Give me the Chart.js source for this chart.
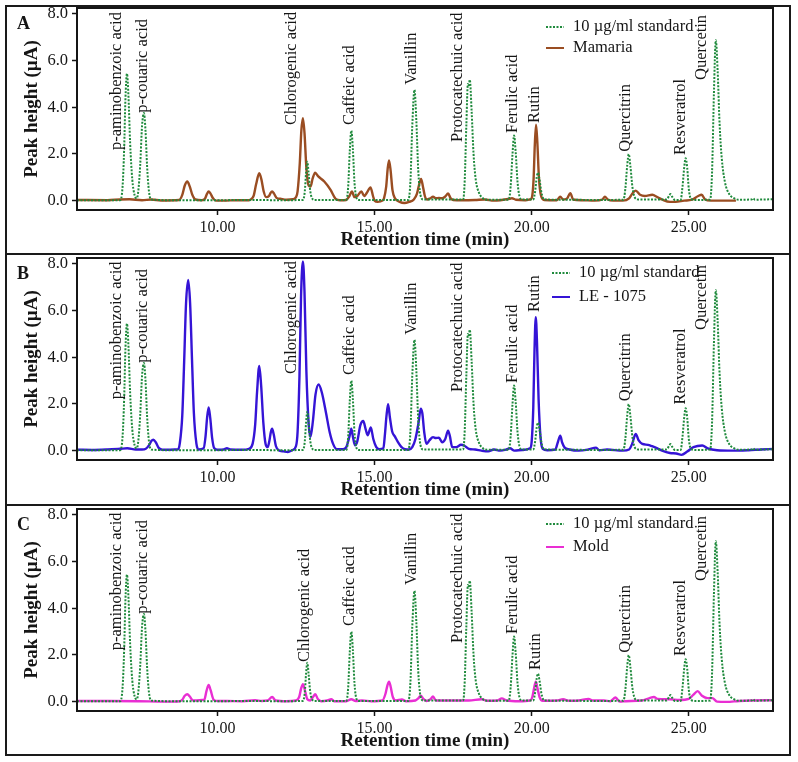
<!DOCTYPE html>
<html>
<head>
<meta charset="utf-8">
<script src="https://cdn.jsdelivr.net/npm/chart.js@4.4.1/dist/chart.umd.min.js"></script>
<style>
  body { margin: 0; background: #fff; width: 798px; height: 762px; position: relative; overflow: hidden; }
  .frame { position: absolute; left: 5px; top: 5px; width: 786px; height: 751px; border: 2px solid #1a1a1a; box-sizing: border-box; }
  .divider { position: absolute; left: 5px; width: 786px; height: 2px; background: #1a1a1a; }
  canvas { position: absolute; left: 7px; }
</style>
</head>
<body>
<div class="frame"></div>
<div class="divider" style="top:253px"></div>
<div class="divider" style="top:504px"></div>
<canvas id="panelA" width="782" height="246" style="top:6px"></canvas>
<canvas id="panelB" width="782" height="246" style="top:256px"></canvas>
<canvas id="panelC" width="782" height="246" style="top:507px"></canvas>
<script>
(function () {
    "use strict";

    // Axis ticks
    var timeTicks = [10, 15, 20, 25];
    var heightTicks = [0, 2, 4, 6, 8];

    // 10 ug/ml standard (same in every panel), [time, peak height]
    var standardTrace = [
        [5.53, 0.02], [6.5, 0.02], [6.9, 0.02], [6.98, 0.6], [7.03, 2.2], [7.07, 4.3], [7.12, 5.44],
        [7.17, 4.4], [7.22, 2.5], [7.29, 0.9], [7.36, 0.25], [7.43, 0.1], [7.48, 0.4], [7.54, 1.5],
        [7.6, 3.2], [7.66, 3.75], [7.71, 3.0], [7.76, 1.5], [7.82, 0.4], [7.89, 0.05], [8.5, 0.02],
        [10.0, 0.02], [11.0, 0.03], [12.0, 0.02], [12.72, 0.03], [12.78, 0.4], [12.82, 1.2], [12.86, 1.67],
        [12.9, 1.2], [12.95, 0.45], [13.02, 0.08], [13.1, 0.03], [14.1, 0.03], [14.16, 0.6], [14.21, 2.1],
        [14.26, 3.0], [14.31, 2.2], [14.36, 0.8], [14.43, 0.1], [14.5, 0.03], [16.07, 0.03], [16.14, 0.8],
        [16.2, 3.2], [16.27, 4.75], [16.33, 3.4], [16.39, 1.3], [16.46, 0.25], [16.55, 0.05], [17.82, 0.05],
        [17.87, 0.9], [17.92, 3.2], [17.97, 5.0], [18.0, 4.9], [18.03, 5.18], [18.09, 3.8], [18.15, 2.0],
        [18.22, 0.9], [18.32, 0.35], [18.45, 0.1], [18.6, 0.04], [19.27, 0.04], [19.33, 0.6], [19.39, 2.0],
        [19.44, 2.79], [19.49, 2.1], [19.55, 0.8], [19.62, 0.15], [19.7, 0.05], [20.05, 0.05], [20.11, 0.4],
        [20.16, 1.0], [20.2, 1.2], [20.25, 0.9], [20.31, 0.35], [20.4, 0.05], [21.0, 0.04], [22.0, 0.03],
        [22.92, 0.04], [22.98, 0.5], [23.04, 1.5], [23.09, 1.99], [23.14, 1.5], [23.21, 0.55], [23.3, 0.1],
        [23.4, 0.05], [24.3, 0.05], [24.37, 0.2], [24.42, 0.28], [24.48, 0.15], [24.56, 0.03], [24.74, 0.03],
        [24.8, 0.6], [24.86, 1.5], [24.9, 1.82], [24.95, 1.4], [25.0, 0.5], [25.07, 0.08], [25.2, 0.03],
        [25.68, 0.05], [25.74, 1.2], [25.8, 4.6], [25.86, 6.87], [25.92, 5.5], [25.98, 3.3], [26.05, 1.8],
        [26.15, 0.8], [26.28, 0.3], [26.45, 0.1], [26.6, 0.04], [27.0, 0.05], [27.05, 0.1], [27.1, 0.04],
        [27.4, 0.05], [27.68, 0.06]
    ];

    // Mamaria
    var mamariaTrace = [
        [5.53, 0.03], [6.5, 0.02], [6.9, 0.05], [7.2, 0.06], [7.6, 0.02], [7.9, 0.05], [8.2, 0.01],
        [8.78, 0.03], [8.88, 0.25], [8.96, 0.65], [9.04, 0.82], [9.12, 0.6], [9.2, 0.25], [9.3, 0.05],
        [9.5, 0.02], [9.6, 0.08], [9.67, 0.3], [9.72, 0.39], [9.78, 0.3], [9.86, 0.1], [9.95, 0.0],
        [10.2, 0.0], [10.6, 0.02], [11.0, 0.02], [11.1, 0.1], [11.15, 0.2], [11.23, 0.7], [11.33, 1.18],
        [11.4, 0.9], [11.47, 0.4], [11.55, 0.15], [11.64, 0.2], [11.69, 0.33], [11.74, 0.39], [11.8, 0.3],
        [11.88, 0.12], [12.0, 0.08], [12.2, 0.04], [12.4, 0.06], [12.5, 0.15], [12.55, 0.4], [12.62, 1.6],
        [12.67, 3.0], [12.72, 3.53], [12.77, 2.9], [12.83, 1.4], [12.9, 0.65], [12.96, 0.6], [13.03, 0.95],
        [13.11, 1.2], [13.2, 1.05], [13.4, 0.82], [13.6, 0.46], [13.76, 0.08], [13.9, 0.02], [14.1, 0.03],
        [14.2, 0.2], [14.28, 0.39], [14.36, 0.15], [14.45, 0.2], [14.58, 0.39], [14.67, 0.2], [14.76, 0.35],
        [14.87, 0.57], [14.95, 0.2], [15.0, 0.0], [15.1, -0.05], [15.25, 0.0], [15.3, 0.1], [15.37, 0.6],
        [15.42, 1.4], [15.46, 1.72], [15.51, 1.3], [15.57, 0.45], [15.65, 0.1], [15.8, -0.05], [15.95, -0.1],
        [16.1, -0.05], [16.25, 0.05], [16.35, 0.3], [16.43, 0.75], [16.48, 0.93], [16.54, 0.6], [16.6, 0.2],
        [16.67, 0.05], [16.77, 0.1], [16.86, 0.17], [16.95, 0.1], [17.05, 0.12], [17.15, 0.1], [17.25, 0.18],
        [17.34, 0.31], [17.42, 0.1], [17.5, 0.03], [17.8, 0.02], [18.2, 0.03], [18.5, 0.05], [18.8, 0.0],
        [19.0, 0.02], [19.3, 0.08], [19.37, 0.1], [19.5, 0.04], [19.8, 0.02], [19.95, 0.05], [20.0, 0.1],
        [20.06, 0.9], [20.1, 2.4], [20.14, 3.25], [20.18, 2.5], [20.23, 1.0], [20.3, 0.2], [20.4, 0.03],
        [20.8, 0.02], [20.91, 0.17], [21.0, 0.05], [21.13, 0.1], [21.23, 0.32], [21.32, 0.05], [21.6, 0.02],
        [22.0, 0.0], [22.25, 0.05], [22.33, 0.17], [22.42, 0.05], [22.6, 0.0], [22.9, 0.0], [23.1, 0.1],
        [23.2, 0.3], [23.31, 0.43], [23.45, 0.25], [23.6, 0.2], [23.84, 0.25], [24.0, 0.15], [24.15, 0.05],
        [24.4, -0.05], [24.58, -0.05], [24.85, 0.0], [25.1, 0.04], [25.3, 0.2], [25.41, 0.25], [25.52, 0.05],
        [25.7, 0.0], [26.0, 0.0], [26.3, 0.0], [26.5, 0.0]
    ];

    // LE - 1075
    var le1075Trace = [
        [5.53, 0.04], [6.0, 0.03], [6.5, 0.05], [6.9, 0.08], [7.13, 0.1], [7.4, 0.05], [7.6, 0.05],
        [7.72, 0.08], [7.83, 0.25], [7.9, 0.42], [7.96, 0.47], [8.04, 0.35], [8.13, 0.12], [8.25, 0.04],
        [8.5, 0.04], [8.75, 0.06], [8.8, 0.3], [8.88, 1.5], [8.94, 3.8], [9.0, 6.3], [9.07, 7.31],
        [9.13, 6.3], [9.19, 3.9], [9.25, 1.6], [9.33, 0.3], [9.4, 0.05], [9.56, 0.1], [9.62, 0.6],
        [9.67, 1.4], [9.72, 1.85], [9.77, 1.4], [9.83, 0.55], [9.9, 0.1], [10.0, 0.04], [10.2, 0.05],
        [10.3, 0.1], [10.4, 0.05], [10.8, 0.04], [11.0, 0.08], [11.12, 0.3], [11.2, 1.1], [11.26, 2.5],
        [11.33, 3.63], [11.39, 2.8], [11.46, 1.2], [11.53, 0.3], [11.6, 0.15], [11.65, 0.4], [11.7, 0.8],
        [11.74, 0.94], [11.79, 0.7], [11.86, 0.2], [11.95, 0.02], [12.1, -0.03], [12.24, -0.06],
        [12.38, 0.02], [12.5, 0.2], [12.55, 0.8], [12.61, 3.2], [12.66, 6.6], [12.72, 8.1], [12.77, 6.8],
        [12.83, 3.4], [12.9, 1.2], [12.96, 0.59], [13.04, 1.3], [13.12, 2.4], [13.22, 2.83], [13.32, 2.5],
        [13.46, 1.58], [13.57, 0.8], [13.68, 0.29], [13.8, 0.06], [14.0, 0.06], [14.1, 0.15], [14.2, 0.6],
        [14.26, 0.94], [14.31, 0.6], [14.38, 0.23], [14.45, 0.4], [14.55, 1.1], [14.64, 1.27], [14.72, 0.9],
        [14.78, 0.66], [14.88, 0.99], [14.96, 0.5], [15.05, 0.16], [15.15, 0.06], [15.28, 0.1], [15.33, 0.7],
        [15.38, 1.5], [15.43, 1.99], [15.49, 1.4], [15.56, 0.82], [15.65, 0.6], [15.75, 0.35], [15.85, 0.16],
        [15.97, 0.06], [16.1, 0.05], [16.2, 0.15], [16.3, 0.5], [16.4, 1.2], [16.47, 1.8], [16.52, 1.6],
        [16.58, 0.8], [16.65, 0.29], [16.75, 0.45], [16.86, 0.58], [16.95, 0.54], [17.05, 0.55], [17.15, 0.36],
        [17.25, 0.5], [17.34, 0.86], [17.4, 0.6], [17.47, 0.15], [17.6, 0.15], [17.75, 0.25], [17.85, 0.22],
        [18.0, 0.08], [18.2, 0.05], [18.4, 0.0], [18.62, -0.03], [18.8, 0.05], [19.0, 0.0], [19.2, 0.05],
        [19.31, 0.1], [19.45, 0.0], [19.7, 0.03], [19.95, 0.1], [20.0, 0.4], [20.05, 1.8], [20.09, 4.3],
        [20.13, 5.72], [20.17, 4.6], [20.22, 2.2], [20.28, 0.6], [20.35, 0.08], [20.5, 0.02], [20.75, 0.05],
        [20.83, 0.35], [20.91, 0.64], [20.97, 0.35], [21.05, 0.13], [21.2, 0.05], [21.5, 0.0], [21.8, 0.05],
        [22.05, 0.13], [22.15, 0.02], [22.4, 0.05], [22.9, 0.0], [23.1, 0.05], [23.2, 0.3], [23.31, 0.72],
        [23.4, 0.45], [23.52, 0.29], [23.7, 0.25], [23.83, 0.19], [24.0, 0.1], [24.15, 0.0], [24.4, -0.1],
        [24.6, -0.12], [24.77, -0.18], [24.95, -0.04], [25.15, 0.15], [25.43, 0.22], [25.6, 0.1], [25.9, 0.02],
        [26.4, 0.0], [26.9, 0.02], [27.3, 0.05], [27.68, 0.07]
    ];

    // Mold
    var moldTrace = [
        [5.53, 0.03], [6.5, 0.03], [7.5, 0.02], [8.3, 0.0], [8.8, 0.02], [8.88, 0.08], [8.96, 0.25],
        [9.04, 0.32], [9.12, 0.22], [9.22, 0.05], [9.58, 0.08], [9.65, 0.45], [9.72, 0.72], [9.78, 0.5],
        [9.88, 0.08], [10.0, 0.03], [10.3, 0.03], [10.8, 0.02], [11.2, 0.06], [11.4, 0.03], [11.6, 0.05],
        [11.74, 0.2], [11.85, 0.05], [12.2, 0.02], [12.5, 0.05], [12.6, 0.2], [12.66, 0.55], [12.72, 0.75],
        [12.78, 0.5], [12.86, 0.1], [12.95, 0.05], [13.05, 0.22], [13.11, 0.32], [13.2, 0.1], [13.3, 0.02],
        [13.5, 0.05], [13.62, 0.1], [13.72, 0.02], [14.1, 0.02], [14.26, 0.1], [14.4, 0.03], [14.6, 0.05],
        [14.9, 0.02], [15.25, 0.05], [15.35, 0.35], [15.41, 0.7], [15.46, 0.86], [15.51, 0.65], [15.58, 0.2],
        [15.68, 0.05], [15.87, 0.09], [16.0, 0.02], [16.3, 0.05], [16.4, 0.15], [16.47, 0.26], [16.55, 0.12],
        [16.65, 0.03], [16.78, 0.1], [16.86, 0.22], [16.95, 0.05], [17.5, 0.05], [18.0, 0.05], [18.41, 0.1],
        [18.6, 0.04], [18.9, 0.05], [19.05, 0.14], [19.2, 0.05], [19.6, 0.02], [19.95, 0.05], [20.02, 0.2],
        [20.08, 0.6], [20.13, 0.86], [20.18, 0.6], [20.25, 0.2], [20.35, 0.04], [20.8, 0.05], [21.0, 0.1],
        [21.2, 0.04], [21.5, 0.05], [21.81, 0.12], [21.95, 0.05], [22.3, 0.05], [22.5, 0.02], [22.67, 0.18],
        [22.8, 0.0], [23.0, 0.02], [23.5, 0.05], [23.75, 0.15], [23.89, 0.2], [24.0, 0.12], [24.4, 0.1],
        [24.7, 0.07], [25.0, 0.12], [25.15, 0.3], [25.28, 0.45], [25.42, 0.25], [25.6, 0.15], [25.75, 0.15],
        [25.9, 0.0], [26.2, -0.01], [26.6, 0.03], [27.0, 0.05], [27.68, 0.06]
    ];

    // Compound labels: retention time and height where each label starts
    var peakNames = ["p-aminobenzoic acid", "p-couaric acid", "Chlorogenic acid", "Caffeic acid", "Vanillin",
        "Protocatechuic acid", "Ferulic acid", "Rutin", "Quercitrin", "Resveratrol", "Quercetin"];
    var labelTimeA = [6.8, 7.63, 12.37, 14.22, 16.19, 17.66, 19.41, 20.11, 23.0, 24.75, 25.42];
    var labelHeightA = [2.17, 3.76, 3.24, 3.24, 4.96, 2.51, 2.9, 3.33, 2.09, 1.96, 5.17];
    var labelTimeB = [6.8, 7.63, 12.37, 14.22, 16.19, 17.66, 19.41, 20.11, 23.0, 24.75, 25.42];
    var labelHeightB = [2.2, 3.76, 3.28, 3.24, 4.96, 2.51, 2.9, 5.94, 2.12, 1.98, 5.17];
    var labelTimeC = [6.8, 7.63, 12.79, 14.22, 16.19, 17.66, 19.41, 20.14, 23.0, 24.75, 25.42];
    var labelHeightC = [2.2, 3.76, 1.7, 3.24, 5.0, 2.51, 2.9, 1.36, 2.09, 1.96, 5.17];

    var serif = "'Liberation Serif', 'DejaVu Serif', serif";
    var ink = "#151515";
    var stdColor = "#1f8a3c";


    // Box, panel letter, rotated compound names and legend
    var panelDecor = {
        id: 'panelDecor',
        afterDraw: function (chart, args, opts) {
            var ctx = chart.ctx;
            var area = chart.chartArea;
            var xs = chart.scales.x, ys = chart.scales.y;
            ctx.save();

            ctx.strokeStyle = ink;
            ctx.lineWidth = 2;
            ctx.setLineDash([]);
            ctx.strokeRect(area.left, area.top, area.right - area.left, area.bottom - area.top);

            ctx.fillStyle = ink;
            ctx.font = "bold 18px " + serif;
            ctx.textAlign = 'left';
            ctx.textBaseline = 'middle';
            ctx.fillText(opts.letter, 10, area.top + 16);

            ctx.font = "16.5px " + serif;
            for (var i = 0; i < peakNames.length; i++) {
                ctx.save();
                ctx.translate(xs.getPixelForValue(opts.labelTimes[i]), ys.getPixelForValue(opts.labelHeights[i]));
                ctx.rotate(-Math.PI / 2);
                ctx.fillText(peakNames[i], 0, 0);
                ctx.restore();
            }

            // legend
            var lx = area.left + opts.legendX, ly = area.top + opts.legendY;
            var items = chart.data.datasets;
            ctx.font = "16.5px " + serif;
            for (var j = 0; j < items.length; j++) {
                var y = ly + j * opts.legendGap;
                ctx.strokeStyle = items[j].borderColor;
                ctx.lineWidth = 2;
                ctx.setLineDash(items[j].borderDash || []);
                ctx.beginPath();
                ctx.moveTo(lx, y);
                ctx.lineTo(lx + 18, y);
                ctx.stroke();
                ctx.fillStyle = ink;
                ctx.fillText(items[j].label, lx + 27, y);
            }
            ctx.restore();
        }
    };


    function toPoints(trace) {
        return trace.map(function (p) { return {x: p[0], y: p[1]}; });
    }

    function makePanel(id, decor, sampleName, sampleTrace, sampleColor) {
        var ctx = document.getElementById(id).getContext("2d");
        return new Chart(ctx, {
            type: "line",
            data: {
                datasets: [{
                    label: "10 µg/ml standard",
                    data: toPoints(standardTrace),
                    borderColor: stdColor,
                    borderWidth: 2,
                    borderDash: [2, 1.5],
                    pointRadius: 0,
                    cubicInterpolationMode: 'monotone'
                },
                {
                    label: sampleName,
                    data: toPoints(sampleTrace),
                    borderColor: sampleColor,
                    borderWidth: 2.4,
                    pointRadius: 0,
                    cubicInterpolationMode: 'monotone'
                }]
            },
            options: {
                responsive: false,
                animation: false,
                devicePixelRatio: 1,
                layout: {padding: {top: 2, right: 16, bottom: 0, left: 0}},
                plugins: {
                    legend: {display: false},
                    tooltip: {enabled: false},
                    panelDecor: decor
                },
                scales: {
                    x: {
                        type: 'linear',
                        min: 5.53,
                        max: 27.68,
                        afterBuildTicks: function (axis) {
                            axis.ticks = timeTicks.map(function (v) { return {value: v}; });
                        },
                        afterFit: function (axis) {
                            axis.height = 42;
                            axis.paddingLeft = 0;
                            axis.paddingRight = 0;
                        },
                        border: {display: false},
                        grid: {drawOnChartArea: false, drawTicks: true, tickLength: 5, tickColor: ink, tickWidth: 1.5},
                        ticks: {
                            padding: 3, color: ink, autoSkip: false, maxRotation: 0,
                            font: {family: serif, size: 16},
                            callback: function (v) { return Number(v).toFixed(2); }
                        },
                        title: {
                            display: true, text: "Retention time (min)", color: ink,
                            font: {family: serif, size: 19, weight: 'bold'},
                            padding: {top: 0, bottom: 1}
                        }
                    },
                    y: {
                        min: -0.4,
                        max: 8.25,
                        afterBuildTicks: function (axis) {
                            axis.ticks = heightTicks.map(function (v) { return {value: v}; });
                        },
                        afterFit: function (axis) {
                            axis.width = 70;
                            axis.paddingTop = 0;
                            axis.paddingBottom = 0;
                        },
                        border: {display: false},
                        grid: {drawOnChartArea: false, drawTicks: true, tickLength: 5, tickColor: ink, tickWidth: 1.5},
                        ticks: {
                            padding: 4, color: ink,
                            font: {family: serif, size: 16.5},
                            callback: function (v) { return Number(v).toFixed(1); }
                        },
                        title: {
                            display: true, text: "Peak height (µA)", color: ink,
                            font: {family: serif, size: 19, weight: 'bold'},
                            padding: {top: 14, bottom: 0}
                        }
                    }
                }
            },
            plugins: [panelDecor]
        });
    }

    makePanel("panelA",
        {letter: "A", labelTimes: labelTimeA, labelHeights: labelHeightA, legendX: 469, legendY: 19, legendGap: 21},
        "Mamaria", mamariaTrace, "#9a4d22");
    makePanel("panelB",
        {letter: "B", labelTimes: labelTimeB, labelHeights: labelHeightB, legendX: 475, legendY: 15, legendGap: 24},
        "LE - 1075", le1075Trace, "#3514d6");
    makePanel("panelC",
        {letter: "C", labelTimes: labelTimeC, labelHeights: labelHeightC, legendX: 469, legendY: 15, legendGap: 23},
        "Mold", moldTrace, "#e92ed3");
})();
</script>
</body>
</html>
